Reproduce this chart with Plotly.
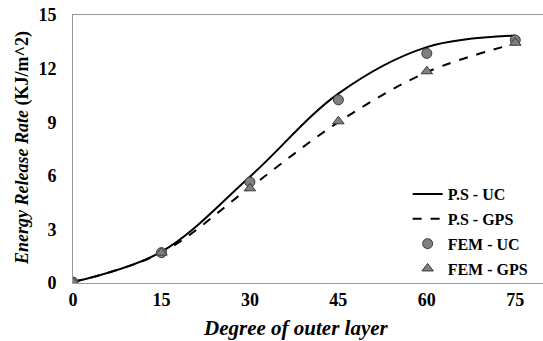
import plotly.graph_objects as go

degrees = [0, 15, 30, 45, 60, 75]
ps_uc = [0.05, 1.75, 5.95, 10.6, 13.2, 13.85]
ps_gps = [0.05, 1.7, 5.35, 9.0, 11.8, 13.4]
fem_uc = [0.05, 1.7, 5.65, 10.25, 12.85, 13.6]
fem_gps = [0.05, 1.7, 5.3, 9.05, 11.85, 13.45]
y_ticks = [0, 3, 6, 9, 12, 15]
x_ticks = [0, 15, 30, 45, 60, 75]

FONT = "Times New Roman"
fig = go.Figure()
fig.add_trace(go.Scatter(x=degrees, y=ps_uc, mode="lines", name="<b>P.S - UC</b>",
                         line=dict(color="black", width=2, shape="spline", smoothing=1),
                         legendgroup="a"))
fig.add_trace(go.Scatter(x=degrees, y=ps_gps, mode="lines", name="<b>P.S - GPS</b>",
                         line=dict(color="black", width=2, dash="dash", shape="spline", smoothing=1),
                         legendgroup="b"))
fig.add_trace(go.Scatter(x=degrees, y=fem_uc, mode="markers", name="<b>FEM - UC</b>",
                         marker=dict(symbol="circle", size=10, color="#808080",
                                     line=dict(color="#3a3a3a", width=1)),
                         legendgroup="c"))
fig.add_trace(go.Scatter(x=degrees, y=fem_gps, mode="markers", name="<b>FEM - GPS</b>",
                         marker=dict(symbol="triangle-up", size=10, color="#808080",
                                     line=dict(color="#3a3a3a", width=1)),
                         legendgroup="d"))

fig.update_layout(
    width=543, height=341,
    margin=dict(l=73, r=0, t=15, b=58),
    plot_bgcolor="white", paper_bgcolor="white",
    font=dict(family=FONT, color="black"),
    showlegend=True,
    legend=dict(x=0.712, y=0.395, xanchor="left", yanchor="top",
                font=dict(family=FONT, size=16),
                traceorder="grouped", tracegroupgap=1,
                bgcolor="rgba(0,0,0,0)"),
    xaxis=dict(range=[0, 79.7], tickvals=x_ticks, ticktext=[f"<b>{v}</b>" for v in x_ticks],
               showgrid=False, zeroline=False, showline=True, linecolor="#999999",
               linewidth=1, mirror=True, ticks="",
               tickfont=dict(family=FONT, size=18)),
    yaxis=dict(range=[0, 15], tickvals=y_ticks, ticktext=[f"<b>{v}</b>" for v in y_ticks],
               showgrid=False, zeroline=False, showline=True, linecolor="#999999",
               linewidth=1, ticks="", ticklabelstandoff=12,
               tickfont=dict(family=FONT, size=18)),
    annotations=[
        dict(text="<b><i>Degree of outer layer</i></b>", xref="paper", yref="paper",
             x=(296 - 73) / 470, y=-(328 - 283) / 268, xanchor="center", yanchor="middle",
             showarrow=False, font=dict(family=FONT, size=21)),
        dict(text="<b><i>Energy Release Rate</i> (KJ/m^2)</b>", xref="paper", yref="paper",
             x=(22 - 73) / 470, y=(283 - 148) / 268, xanchor="center", yanchor="middle",
             textangle=-90, showarrow=False,
             font=dict(family=FONT, size=18)),
    ],
)
fig.write_html("out.html", post_script="document.body.style.margin='0';",
               config={"displayModeBar": False})
